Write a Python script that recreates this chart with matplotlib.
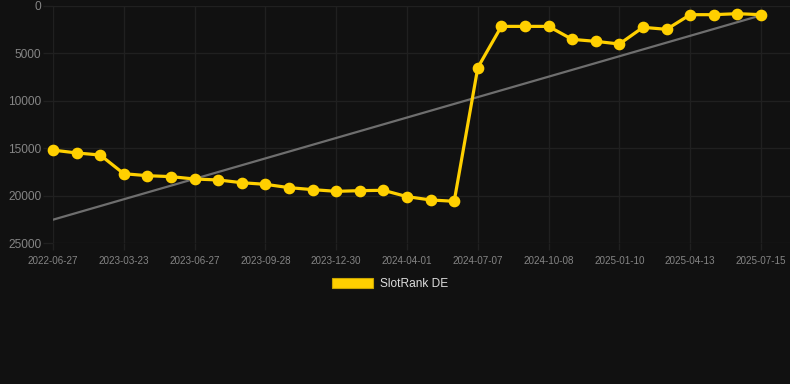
import matplotlib
matplotlib.use("Agg")
import matplotlib.pyplot as plt
from matplotlib.patches import Patch
import numpy as np

plt.rcParams['font.family'] = ['Liberation Sans', 'DejaVu Sans']

# --- data ---
dates = ['2022-06-27', '2022-09-10', '2022-12-20', '2023-03-23', '2023-04-25', '2023-05-26',
         '2023-06-27', '2023-07-28', '2023-08-28', '2023-09-28', '2023-10-29', '2023-11-29',
         '2023-12-30', '2024-01-30', '2024-03-01', '2024-04-01', '2024-05-03', '2024-06-05',
         '2024-07-07', '2024-08-07', '2024-09-07', '2024-10-08', '2024-11-08', '2024-12-10',
         '2025-01-10', '2025-02-10', '2025-03-13', '2025-04-13', '2025-05-14', '2025-06-14',
         '2025-07-15']
rank = [15200, 15500, 15720, 17690, 17900, 18000, 18250, 18350, 18640, 18810,
        19160, 19370, 19550, 19480, 19440, 20110, 20460, 20600, 6500, 2150,
        2150, 2150, 3520, 3730, 4010, 2250, 2460, 915, 915, 810, 915]
y_ticks = [0, 5000, 10000, 15000, 20000, 25000]
series_name = 'SlotRank DE'

bg = '#111111'
grid_col = '#202020'
tick_col = '#858585'
yellow = '#ffd000'

x = np.arange(len(rank))
# linear trend through the series
coef = np.polyfit(x, rank, 1)
trend = np.polyval(coef, x[[0, -1]])

fig = plt.figure(figsize=(7.9, 3.84), dpi=100, facecolor=bg)
W, H = 790, 384
ax = fig.add_axes([53 / W, 1 - 243 / H, (790 - 53) / W, (243 - 6) / H])
ax.set_facecolor(bg)

ax.plot(x[[0, -1]], trend, color='#6e6e6e', lw=1.6, zorder=2)
ax.plot(x, rank, color=yellow, lw=2.3, marker='o', ms=7.4,
        markerfacecolor=yellow, markeredgecolor=yellow, zorder=3, clip_on=False)

ax.set_xlim(0, (790 - 53) / 23.6)
ax.set_ylim(25000, 0)
ax.set_yticks(y_ticks)
ax.set_yticklabels([str(v) for v in y_ticks])
ax.set_xticks(x[::3])
ax.set_xticklabels([dates[i] for i in x[::3]])

ax.grid(True, color=grid_col, lw=1)
ax.set_axisbelow(True)
for s in ax.spines.values():
    s.set_visible(False)
ax.tick_params(axis='y', length=7.5, width=1, color=grid_col, pad=1,
               labelsize=8.6, labelcolor=tick_col)
ax.tick_params(axis='x', length=5, width=1, color=grid_col, pad=4,
               labelsize=7.1, labelcolor=tick_col)

handle = Patch(facecolor=yellow, edgecolor='#c9a500', lw=0.8)
leg = fig.legend([handle], [series_name], loc='center',
                 bbox_to_anchor=(390 / W, 1 - 284 / H), frameon=False,
                 fontsize=8.6, handlelength=3.4, handleheight=1.0,
                 handletextpad=0.55, labelcolor='#dddddd')

fig.savefig('out.png', dpi=100, facecolor=bg)
